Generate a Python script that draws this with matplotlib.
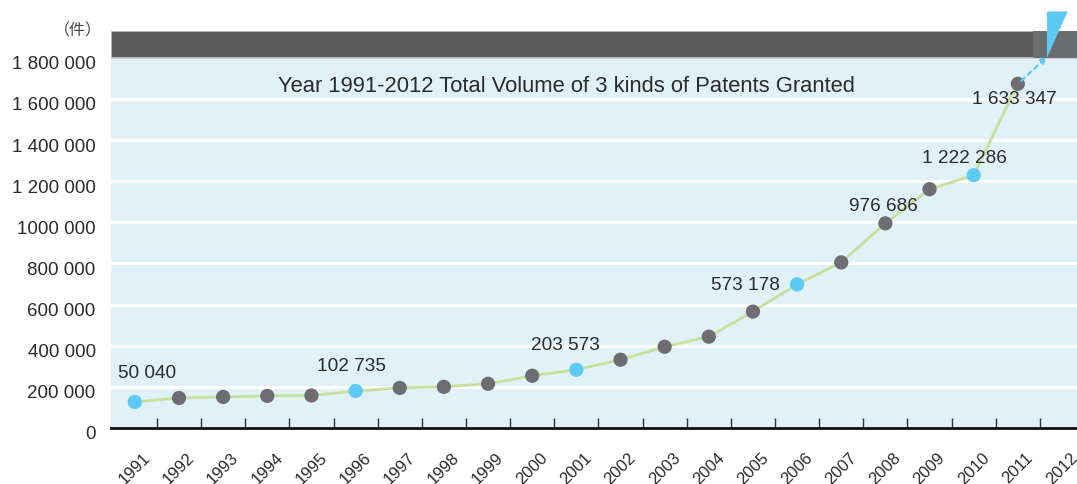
import numpy as np
import matplotlib
matplotlib.use("Agg")
import matplotlib.pyplot as plt
from matplotlib.patches import Polygon, Rectangle
from matplotlib.transforms import ScaledTranslation

plt.rcParams['font.family'] = ['Liberation Sans', 'DejaVu Sans']

# --- data ---
years = list(range(1991, 2012))
plotted = [126800, 146000, 151000, 156000, 158000, 180000, 195000, 200000,
           215000, 254000, 283000, 332000, 395000, 444000, 566000, 698000,
           805000, 995000, 1161000, 1229000, 1673000]
highlight_years = [1991, 1996, 2001, 2006, 2010]
label_years = [1991, 1996, 2001, 2006, 2008, 2010, 2011]
label_texts = ["50 040", "102 735", "203 573", "573 178", "976 686", "1 222 286", "1 633 347"]
tick_years = list(range(1991, 2013))
ytick_vals = [0, 200000, 400000, 600000, 800000, 1000000, 1200000, 1400000, 1600000, 1800000]
ytick_labels = ["0", "200 000", "400 000", "600 000", "800 000", "1000 000",
                "1 200 000", "1 400 000", "1 600 000", "1 800 000"]
title = "Year 1991-2012 Total Volume of 3 kinds of Patents Granted"
unit = "（件）"

# label offsets in pixels (dx, dy)
label_offsets = [(12, 29), (-4, 25), (-11, 25), (-52, 0), (-2, 18), (-9, 18), (-3, -15)]

BG = '#e0f1f7'
GRAY_PT = '#6d6d72'
BLUE_PT = '#5ccaf2'
LINE = '#c9df9c'
TXT = '#2b2b2b'

fig = plt.figure(figsize=(10.77, 4.85), dpi=100)
ax = fig.add_axes([111 / 1077, 1 - 429 / 485, 1 - 111 / 1077, (429 - 32) / 485])
ax.set_facecolor(BG)

YTOP = 1930000
ax.set_xlim(1990.46, 2012.34)
ax.set_ylim(0, YTOP)

# white gridlines
for v in ytick_vals[1:-1]:
    ax.axhline(v, color='white', lw=2.2, zorder=1)

# dark band at top
ax.add_patch(Rectangle((1990.46, 1800000), 2012.34 - 1990.46, YTOP - 1800000,
                       facecolor='#5b5b5b', edgecolor='#c8c8c8', lw=1.2, zorder=3))
ax.add_patch(Rectangle((2011.34, 1800000), 1.0, YTOP - 1800000,
                       facecolor='#6c6d70', edgecolor='none', zorder=3.5))

# line and points
ax.plot(years, plotted, color=LINE, lw=2, zorder=4)
colors = [BLUE_PT if y in highlight_years else GRAY_PT for y in years]
ax.scatter(years, plotted, s=105, c=colors, zorder=5, linewidths=0)

# dashed arrow from last point to band
ax.annotate('', xy=(2011.66, 1805000), xytext=(years[-1] + 0.08, plotted[-1] + 15000),
            arrowprops=dict(arrowstyle='-|>', linestyle=(0, (2, 2)), color=BLUE_PT,
                            lw=1.6, mutation_scale=9, shrinkA=0, shrinkB=0), zorder=6)
# blue triangle marker on top
tri = Polygon([(2011.66, 2025000), (2012.13, 2025000), (2011.66, 1800000)],
              closed=True, facecolor=BLUE_PT, edgecolor='none', zorder=7, clip_on=False)
ax.add_patch(tri)

# value labels
for yr, txt, (dx, dy) in zip(label_years, label_texts, label_offsets):
    yv = plotted[years.index(yr)]
    ax.annotate(txt, xy=(yr, yv), xytext=(dx, dy), textcoords='offset pixels',
                ha='center', va='center', fontsize=13.7, color=TXT, zorder=8)

# axes styling
for s in ['left', 'right', 'top']:
    ax.spines[s].set_visible(False)
ax.spines['bottom'].set_color('#111111')
ax.spines['bottom'].set_linewidth(2)
ax.spines['bottom'].set_zorder(6)

ax.set_xticks([y + 0.5 for y in tick_years[:-1]])
ax.set_xticklabels([])
ax.tick_params(axis='x', which='major', direction='in', length=7, width=1, color='#333333')
ax.set_xticks(tick_years, minor=True)
ax.set_xticklabels([str(y) for y in tick_years], minor=True, rotation=45,
                   ha='center', va='top', fontsize=12, color=TXT)
ax.tick_params(axis='x', which='minor', length=0, pad=15)

ax.set_yticks(ytick_vals)
ax.set_yticklabels(ytick_labels, fontsize=13.5, color=TXT)
ax.tick_params(axis='y', length=0, pad=11)
shift = ScaledTranslation(0, -4 / 100, fig.dpi_scale_trans)
for lab in ax.get_yticklabels():
    lab.set_transform(lab.get_transform() + shift)

fig.text(566 / 1077, 1 - 87 / 485, title, ha='center', va='center', fontsize=15.8, color=TXT)
fig.text(78 / 1077, 1 - 31 / 485, unit, ha='center', va='center', fontsize=11.5,
         color='#444444', family=['Noto Sans CJK SC', 'DejaVu Sans'])

fig.savefig('out.png', dpi=100)
